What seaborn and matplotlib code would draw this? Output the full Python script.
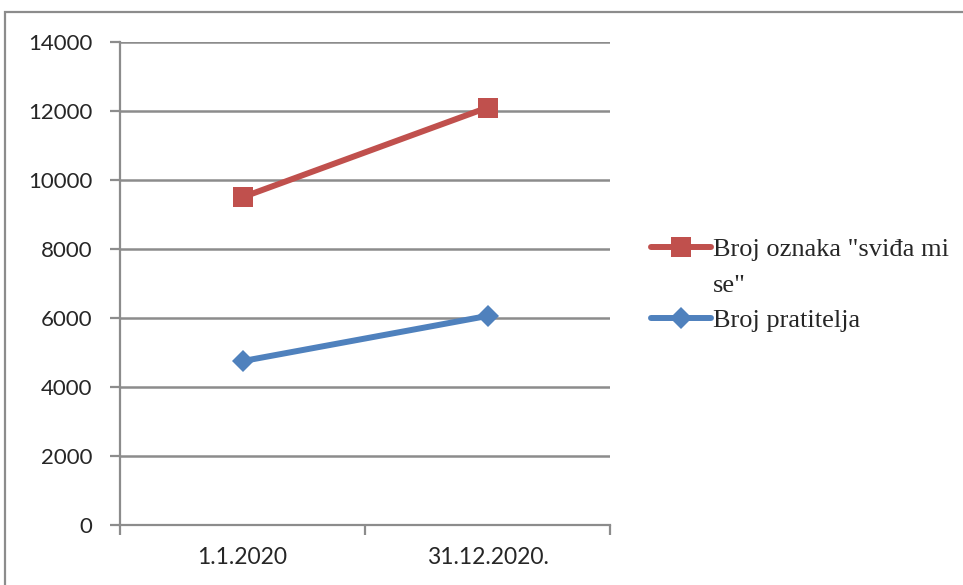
import pandas as pd
import numpy as np
import seaborn as sns
import matplotlib.pyplot as plt
from matplotlib.patches import Rectangle
from matplotlib.lines import Line2D

dates = ['1.1.2020', '31.12.2020.']
likes = [9500, 12100]
followers = [4750, 6060]
label_likes = 'Broj oznaka "sviđa mi se"'
label_followers = 'Broj pratitelja'

sns.set_style('white')
plt.rcParams['font.family'] = ['Lato', 'DejaVu Sans']

df = pd.DataFrame({
    'datum': dates * 2,
    'vrijednost': likes + followers,
    'serija': [label_likes] * len(dates) + [label_followers] * len(dates),
})

fig = plt.figure(figsize=(9.63, 5.85), dpi=100)
ax = fig.add_axes([120 / 963, 1 - 525 / 585, 490 / 963, 483 / 585])

# outer chart frame
fig.patches.append(Rectangle((5 / 963, -0.05), 1.1, 1 - 12 / 585 + 0.05,
                             transform=fig.transFigure, fill=False,
                             edgecolor='#8c8c8c', lw=1.6))

sns.lineplot(data=df, x='datum', y='vrijednost', hue='serija', style='serija',
             palette=['#C0504D', '#4F81BD'], markers=['s', 'D'], dashes=False,
             lw=4.3, ax=ax, legend=False)
lines = ax.get_lines()
lines[0].set_markersize(14)
lines[1].set_markersize(11)
for ln in lines:
    ln.set_markeredgewidth(0)

ax.set_ylim(0, 14000)
ax.set_xlim(-0.5, 1.5)
ax.set_yticks(np.arange(0, 14001, 2000))
ax.yaxis.grid(True, color='#8c8c8c', lw=1.8)
ax.set_axisbelow(True)
for s in ['top', 'right']:
    ax.spines[s].set_visible(False)
for s in ['left', 'bottom']:
    ax.spines[s].set_color('#8c8c8c')
    ax.spines[s].set_linewidth(1.6)
ax.tick_params(axis='y', which='major', length=7, width=1.6, color='#8c8c8c',
               left=True, labelsize=16, pad=13)
ax.set_xticks([0, 1])
ax.set_xticklabels(dates)
ax.set_xticks([-0.5, 0.5, 1.5], minor=True)
ax.tick_params(axis='x', which='major', length=0, labelsize=16.5, pad=16)
ax.tick_params(axis='x', which='minor', length=7, width=1.6, color='#8c8c8c',
               bottom=True)
ax.set_xlabel('')
ax.set_ylabel('')

# legend: the long label wraps onto a second line like in the original
words = label_likes.rsplit(' ', 1)
blank = Line2D([], [], alpha=0)
leg = fig.legend(handles=[lines[0], blank, lines[1]],
                 labels=[words[0], words[1], label_followers],
                 loc='upper left', bbox_to_anchor=(627 / 963, 1 - 214 / 585),
                 frameon=False, handlelength=2.3, handletextpad=0.05,
                 labelspacing=0.45, prop={'family': 'Liberation Serif', 'size': 19})

fig.savefig('out.png', dpi=100)
